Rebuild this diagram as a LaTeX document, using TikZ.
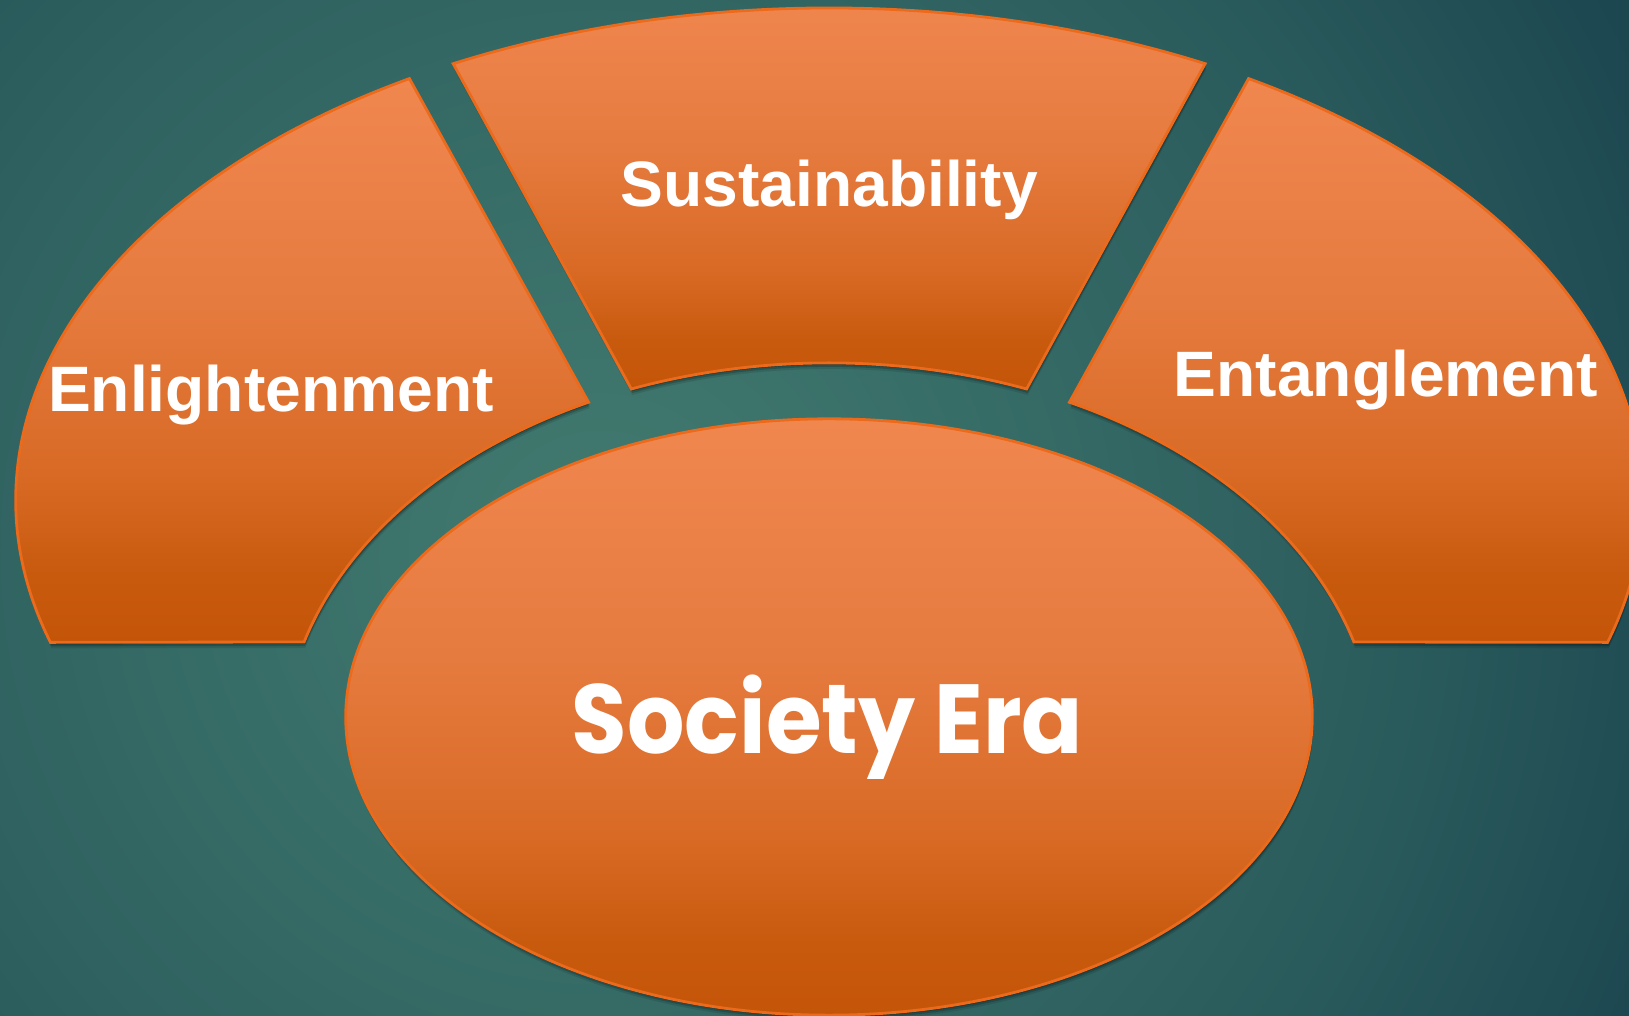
\documentclass[tikz,border=0pt]{standalone}
\usepackage{fontspec}
\setmainfont{Liberation Sans}
\newfontfamily\popfont{Poppins}
\definecolor{bg0}{HTML}{427A6F}
\definecolor{bg1}{HTML}{376D67}
\definecolor{bg2}{HTML}{2A5B5C}
\definecolor{bg3}{HTML}{1C4650}
\definecolor{ord0}{HTML}{C45508}
\definecolor{ord1}{HTML}{C85A0E}
\definecolor{ord2}{HTML}{D86A25}
\definecolor{ord3}{HTML}{E67B3F}
\definecolor{ord4}{HTML}{F0874F}
\definecolor{oredge}{HTML}{EC6A1C}
\pgfdeclareverticalshading{orgrad}{100bp}{color(0bp)=(ord0); color(25bp)=(ord0); color(31bp)=(ord1); color(40bp)=(ord2); color(55bp)=(ord3); color(75bp)=(ord4); color(100bp)=(ord4)}
\pgfdeclareradialshading{bggrad}{\pgfpoint{0bp}{0bp}}{color(0bp)=(bg0); color(8bp)=(bg1); color(17bp)=(bg2); color(24bp)=(bg3); color(50bp)=(bg3)}
\newcommand\orshape[1]{%
  \fill[black,opacity=0.10,transform canvas={shift={(1,-6)}}] #1;
  \fill[black,opacity=0.18,transform canvas={shift={(1,-4)}}] #1;
  \fill[black,opacity=0.25,transform canvas={shift={(1,-2)}}] #1;
  \shade[shading=orgrad,draw=oredge,line width=0.8pt] #1;}
\tikzset{lbl/.style={text=white, inner sep=0pt, anchor=base, font=\fontsize{18.25}{20}\selectfont\bfseries}}
\begin{document}
\begin{tikzpicture}[x=0.01cm, y=0.01cm]
\useasboundingbox (0,0) rectangle (1629,-1016);
\begin{scope}
  \clip (0,0) rectangle (1629,-1016);
  \shade[shading=bggrad] (-600,-1750) rectangle (1800,650);
\end{scope}
% left segment
\orshape{(409.4,-78.6) arc[start angle=121.07, end angle=196.78, x radius=8.13cm, y radius=4.92cm] -- (304.1,-642) arc[start angle=164.02, end angle=116.15, x radius=5.46cm, y radius=3.85cm] -- cycle}
% middle segment
\orshape{(453.2,-63.7) arc[start angle=117.53, end angle=62.47, x radius=8.13cm, y radius=4.92cm] -- (1026.6,-389.0) arc[start angle=68.79, end angle=111.21, x radius=5.46cm, y radius=3.85cm] -- cycle}
% right segment
\orshape{(1248.6,-78.6) arc[start angle=58.93, end angle=-16.78, x radius=8.13cm, y radius=4.92cm] -- (1353.9,-642) arc[start angle=15.98, end angle=63.85, x radius=5.46cm, y radius=3.85cm] -- cycle}
% central ellipse
\orshape{(829,-717) ellipse [x radius=4.83cm, y radius=2.98cm]}
\node[lbl] (sust) at (829.2,-206.7) {Sustainability};
\node[lbl] (enl) at (270.9,-411.7) {Enlightenment};
\node[lbl] (ent) at (1386,-396.7) {Entanglement};
\node[lbl, font=\popfont\fontsize{27.9}{30}\selectfont\bfseries] (soc) at (827.5,-753.3) {\scalebox{0.92}[1]{Society Era}};
\end{tikzpicture}
\end{document}
